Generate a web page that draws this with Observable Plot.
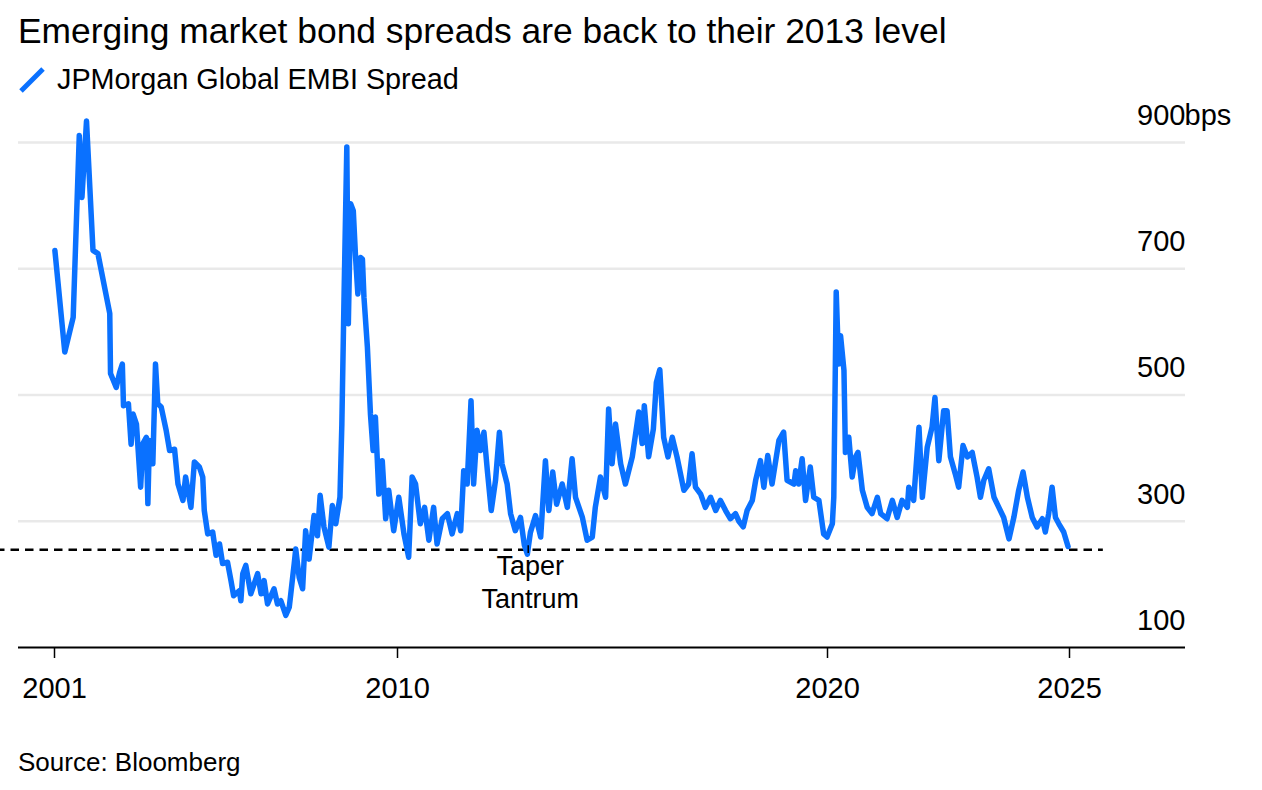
<!DOCTYPE html>
<html>
<head>
<meta charset="utf-8">
<script src="https://cdn.jsdelivr.net/npm/d3@7"></script>
<script src="https://cdn.jsdelivr.net/npm/@observablehq/plot@0.6"></script>
<style>
  html, body { margin: 0; padding: 0; background: #fff; }
  body { width: 1262px; height: 790px; position: relative; overflow: hidden;
         font-family: "Liberation Sans", Arial, Helvetica, sans-serif; color: #000; }
  .abs { position: absolute; white-space: nowrap; }
  #title { left: 18px; top: 14px; font-size: 35.4px; line-height: 35px; }
  #legend-icon { left: 18px; top: 66px; }
  #legend-text { left: 57px; top: 65px; font-size: 28.8px; line-height: 29px; }
  #chart { left: 0; top: 100px; }
  #source { left: 18px; top: 749px; font-size: 26px; line-height: 26px; }
</style>
</head>
<body>
<div id="title" class="abs">Emerging market bond spreads are back to their 2013 level</div>
<svg id="legend-icon" class="abs" width="28" height="28"><line x1="3" y1="25" x2="25" y2="3" stroke="#0a71ff" stroke-width="5"/></svg>
<div id="legend-text" class="abs">JPMorgan Global EMBI Spread</div>
<div id="chart" class="abs"></div>
<div id="source" class="abs">Source: Bloomberg</div>
<script>
// Series: JPMorgan Global EMBI Spread (bps), dates as decimal years
const years = [
  2001.01, 2001.27, 2001.49, 2001.65, 2001.72, 2001.84, 2002.01, 2002.14, 2002.45, 2002.47,
  2002.62, 2002.71, 2002.78, 2002.81, 2002.94, 2003.01, 2003.06, 2003.15, 2003.26, 2003.32,
  2003.41, 2003.45, 2003.49, 2003.58, 2003.65, 2003.71, 2003.80, 2003.93, 2004.02, 2004.15,
  2004.24, 2004.37, 2004.44, 2004.58, 2004.67, 2004.80, 2004.89, 2004.93, 2005.02, 2005.15,
  2005.24, 2005.33, 2005.41, 2005.54, 2005.63, 2005.70, 2005.85, 2005.89, 2005.94, 2006.02,
  2006.15, 2006.33, 2006.42, 2006.50, 2006.59, 2006.76, 2006.85, 2006.94, 2007.07, 2007.16,
  2007.20, 2007.29, 2007.33, 2007.42, 2007.51, 2007.59, 2007.68, 2007.81, 2007.90, 2007.97,
  2008.07, 2008.20, 2008.29, 2008.38, 2008.49, 2008.54, 2008.60, 2008.67, 2008.71, 2008.77,
  2008.84, 2008.90, 2008.96, 2009.03, 2009.08, 2009.12, 2009.21, 2009.29, 2009.36, 2009.42,
  2009.51, 2009.60, 2009.69, 2009.77, 2009.90,
  2010.03, 2010.15, 2010.26, 2010.34, 2010.42, 2010.53, 2010.63, 2010.73, 2010.84, 2010.92,
  2011.04, 2011.16, 2011.27, 2011.39, 2011.47, 2011.54, 2011.62, 2011.71, 2011.77, 2011.85,
  2011.93, 2012.01, 2012.09, 2012.18, 2012.28, 2012.37, 2012.43, 2012.55, 2012.63, 2012.74,
  2012.86, 2012.95, 2013.02, 2013.09, 2013.21, 2013.33, 2013.44, 2013.52, 2013.61, 2013.70,
  2013.83, 2013.95, 2014.06, 2014.14, 2014.30, 2014.41, 2014.53, 2014.60, 2014.72, 2014.84,
  2014.91, 2014.99, 2015.07, 2015.19, 2015.30, 2015.46, 2015.61, 2015.69, 2015.74, 2015.84,
  2015.95, 2016.02, 2016.10, 2016.19, 2016.29, 2016.39, 2016.50, 2016.66, 2016.77, 2016.85,
  2016.93, 2017.05, 2017.16, 2017.28, 2017.40, 2017.51, 2017.63, 2017.74, 2017.86, 2017.94,
  2018.04, 2018.13, 2018.25, 2018.33, 2018.44, 2018.52, 2018.61, 2018.71, 2018.87, 2018.98,
  2019.06, 2019.22, 2019.26, 2019.33, 2019.41, 2019.49, 2019.60, 2019.68, 2019.80, 2019.91,
  2019.99,
  2020.10, 2020.13, 2020.18, 2020.23, 2020.27, 2020.34, 2020.37, 2020.44, 2020.51, 2020.58,
  2020.63, 2020.72, 2020.82, 2020.92, 2021.03, 2021.10, 2021.23, 2021.34, 2021.44, 2021.54,
  2021.65, 2021.68, 2021.78, 2021.89, 2021.96, 2022.06, 2022.16, 2022.22, 2022.30, 2022.40,
  2022.47, 2022.54, 2022.64, 2022.71, 2022.80, 2022.89, 2022.99, 2023.09, 2023.16, 2023.23,
  2023.33, 2023.44, 2023.54, 2023.64, 2023.75, 2023.85, 2023.95, 2024.04, 2024.13, 2024.23,
  2024.33, 2024.44, 2024.50, 2024.57, 2024.64, 2024.71, 2024.78, 2024.88, 2024.97
];
const spreads = [
  729, 568, 623, 911, 813, 934, 729, 724, 629, 534,
  512, 536, 549, 483, 486, 422, 470, 454, 354, 423,
  433, 328, 428, 391, 549, 486, 481, 444, 412, 414,
  359, 333, 370, 322, 394, 386, 370, 317, 280, 283,
  246, 264, 233, 235, 206, 182, 190, 174, 217, 230,
  185, 217, 185, 206, 169, 193, 169, 174, 151, 164,
  185, 233, 256, 211, 193, 285, 240, 309, 277, 341,
  291, 259, 325, 296, 338, 454, 665, 893, 613, 803,
  792, 718, 660, 718, 715, 655, 576, 470, 412, 465,
  343, 396, 304, 349, 285,
  338, 280, 243, 370, 359, 296, 322, 270, 322, 264,
  304, 312, 280, 312, 285, 380, 359, 491, 359, 444,
  412, 441, 380, 317, 365, 441, 391, 359, 312, 285,
  306, 262, 248, 282, 309, 275, 396, 317, 378, 327,
  359, 322, 399, 338, 306, 270, 275, 322, 370, 338,
  478, 391, 454, 391, 359, 402, 473, 423, 483, 402,
  446, 520, 540, 433, 402, 433, 402, 349, 359, 407,
  354, 343, 322, 338, 317, 333, 317, 304, 312, 300,
  291, 317, 333, 365, 396, 354, 404, 359, 428, 441,
  365, 359, 380, 359, 399, 333, 386, 338, 333, 280,
  275,
  296, 338, 663, 549, 594, 539, 409, 433, 370, 402,
  409, 349, 322, 312, 338, 312, 304, 333, 306, 333,
  322, 354, 333, 449, 338, 417, 449, 496, 396, 475,
  475, 402, 375, 354, 420, 402, 409, 370, 338, 365,
  383, 338, 322, 306, 272, 306, 349, 378, 338, 306,
  291, 304, 283, 312, 354, 306, 296, 283, 260
];

// Axis / annotation values
const xTicks = [2001, 2010, 2020, 2025];
const yTicks = [100, 300, 500, 700, 900];
const gridValues = [300, 500, 700, 900];
const taperLevel = 255;       // 2013 level (dashed reference line)
const taperLineEnd = 2025.7;  // where the dashed line stops
const taperX = 2013.04;       // Taper Tantrum low
const taperLabel = ["Taper\nTantrum"];

const data = years.map((t, i) => ({t, v: spreads[i]}));

// The original axis is not evenly spaced in time: piecewise mapping through the tick years
const xDomain = [2000.08, 2001, 2010, 2020, 2025, 2027.4];
const xRange = [18, 54, 397, 827, 1069, 1185];

const blue = "#0a71ff";

const chart = Plot.plot({
  width: 1262,
  height: 640,
  marginLeft: 18,
  marginRight: 77,
  marginTop: 42,
  marginBottom: 93,
  style: {fontFamily: "'Liberation Sans', Arial, Helvetica, sans-serif", color: "#000", background: "transparent", overflow: "visible"},
  x: {type: "linear", domain: xDomain, range: xRange, label: null},
  y: {domain: [100, 900], label: null},
  marks: [
    Plot.ruleY(gridValues, {stroke: "#e9e9e9", strokeWidth: 2.5}),
    Plot.ruleY([taperLevel], {x2: () => taperLineEnd, stroke: "#000", strokeWidth: 2.5, strokeDasharray: "8.5,6"}),
    Plot.ruleY([100], {stroke: "#000", strokeWidth: 2}),
    Plot.axisX({ticks: xTicks, tickSize: 11, tickPadding: 19, tickFormat: d => String(d), fontSize: 29, strokeWidth: 1.5, label: null}),
    Plot.axisY({anchor: "right", ticks: yTicks, tickSize: 0, tickPadding: 0, textAnchor: "end", dx: 0, dy: -27, fontSize: 29, tickFormat: d => String(d), label: null}),
    Plot.text(["bps"], {y: () => 900, frameAnchor: "right", textAnchor: "start", dx: -1, dy: -27, fontSize: 29}),
    Plot.line(data, {x: "t", y: "v", stroke: blue, strokeWidth: 5.5, strokeLinejoin: "round", strokeLinecap: "round"}),
    Plot.ruleX([taperX], {y1: () => taperLevel - 6, y2: () => taperLevel + 6, stroke: "#000", strokeWidth: 1.5}),
    Plot.text(taperLabel, {x: () => taperX, y: () => taperLevel, text: d => d, lineAnchor: "top", dy: 3, dx: 2, fontSize: 27, lineHeight: 1.19, fill: "#000"})
  ]
});
document.getElementById("chart").appendChild(chart);
</script>
</body>
</html>
